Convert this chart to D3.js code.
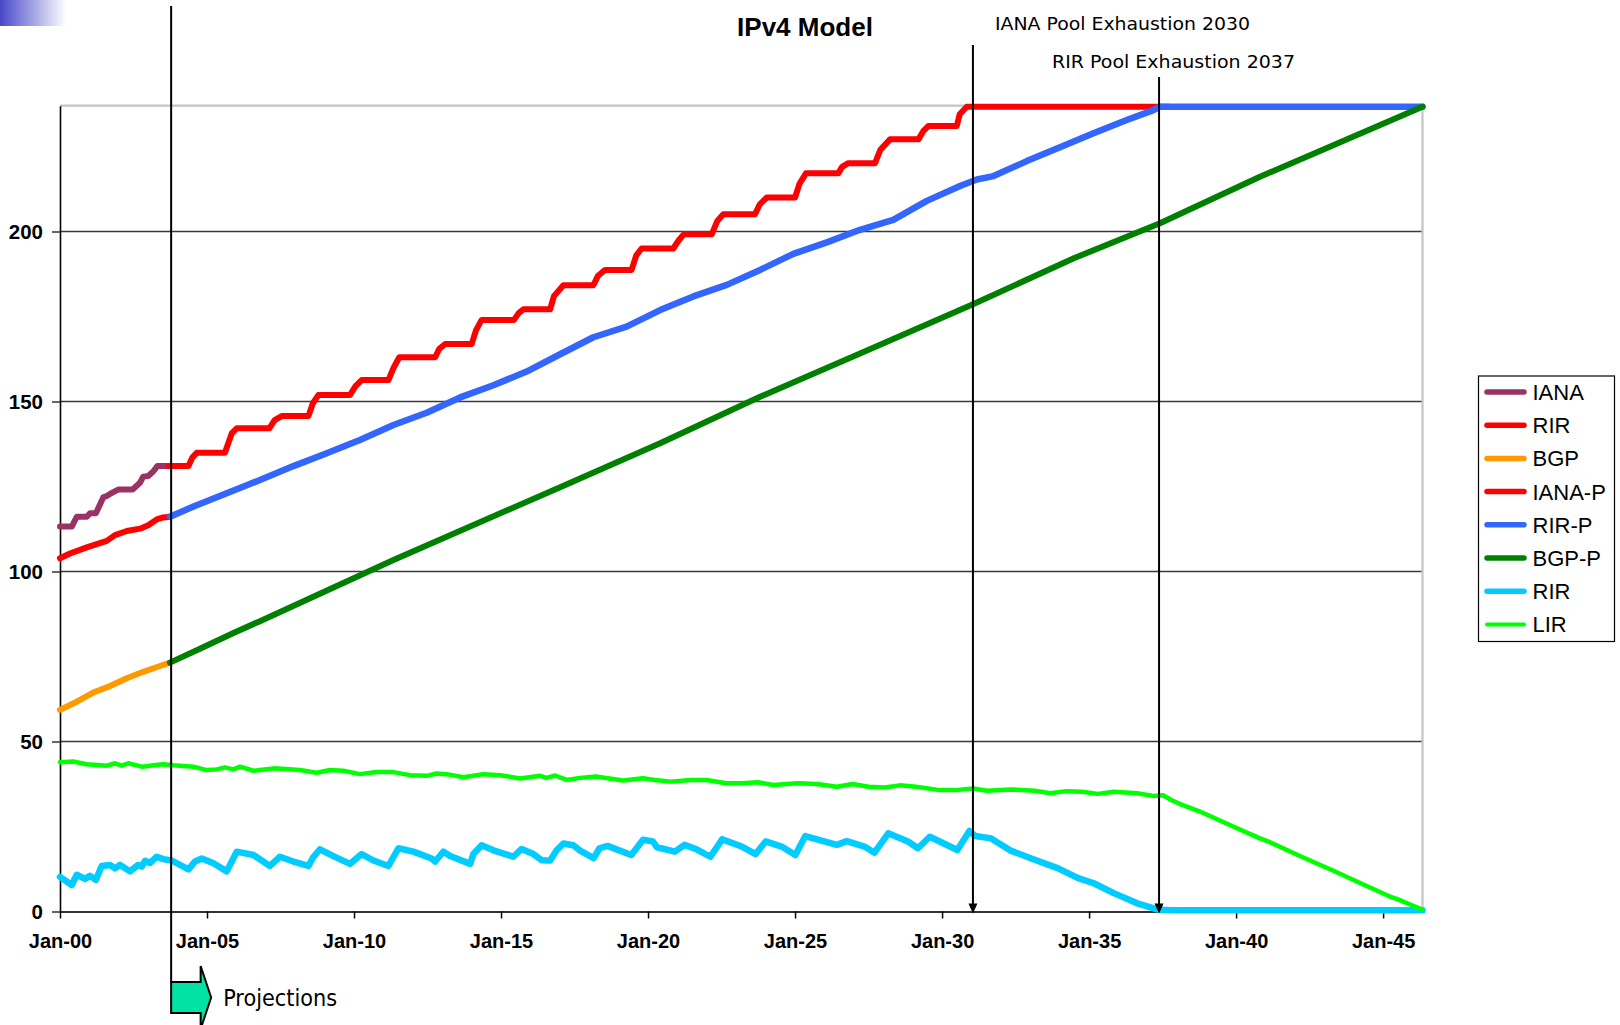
<!DOCTYPE html>
<html><head><meta charset="utf-8">
<script src="https://cdn.jsdelivr.net/npm/d3@7"></script>
<style>html,body{margin:0;padding:0;background:#fff;overflow:hidden;} svg{display:block;}</style>
</head><body>
<svg id="chart" width="1620" height="1025"></svg>
<script>
// ---------------- DATA ----------------
const chartTitle = "IPv4 Model";
const tickYears = [2000, 2005, 2010, 2015, 2020, 2025, 2030, 2035, 2040, 2045];
const tickLabels = ["Jan-00","Jan-05","Jan-10","Jan-15","Jan-20","Jan-25","Jan-30","Jan-35","Jan-40","Jan-45"];
const yTicks = [0, 50, 100, 150, 200];
const xDomain = [2000, 2046.34];
const yDomain = [0, 237];

const seriesNames = ["IANA","RIR","BGP","IANA-P","RIR-P","BGP-P","RIR","LIR"];

const projectionStartYear = 2003.78;
const ianaExhaustYear = 2031.05;
const rirExhaustYear = 2037.38;
const ianaExhaustLabel = "IANA Pool Exhaustion 2030";
const rirExhaustLabel = "RIR Pool Exhaustion 2037";
const projectionLabel = "Projections";

// [year, value] pairs
const ianaData = [[2000.00,113.2],[2000.40,113.2],[2000.57,116.1],[2000.91,116.1],[2001.02,117.1],[2001.22,117.1],[2001.47,121.8],[2001.59,122.2],[2001.70,122.8],[2001.98,124.1],[2002.47,124.1],[2002.72,126.1],[2002.83,127.9],[2003.00,128.1],[2003.17,129.4],[2003.31,131.0],[2003.70,131.0]];

const rirData = [[2000.00,103.9],[2000.34,105.3],[2000.91,107.1],[2001.59,109.0],[2001.87,110.7],[2002.27,111.9],[2002.72,112.6],[2003.00,113.6],[2003.29,115.3],[2003.51,115.9],[2003.74,116.1]];

const bgpData = [[2000.00,59.3],[2000.57,61.7],[2001.13,64.4],[2001.70,66.3],[2002.27,68.6],[2002.83,70.5],[2003.40,72.2],[2003.74,73.2]];

const ianaProjData = [[2003.70,131.0],[2004.37,131.0],[2004.50,133.5],[2004.65,134.9],[2005.61,134.9],[2005.84,140.6],[2006.01,142.1],[2007.12,142.1],[2007.30,144.5],[2007.54,145.7],[2008.45,145.7],[2008.60,149.5],[2008.79,151.9],[2009.86,151.9],[2010.05,154.5],[2010.26,156.3],[2011.17,156.3],[2011.35,160.0],[2011.54,163.0],[2012.76,163.0],[2012.90,165.5],[2013.10,166.9],[2014.00,166.9],[2014.15,171.0],[2014.34,174.0],[2015.44,174.0],[2015.60,176.0],[2015.76,177.1],[2016.67,177.1],[2016.80,181.0],[2017.12,184.2],[2018.14,184.2],[2018.30,187.0],[2018.54,188.7],[2019.44,188.7],[2019.60,193.0],[2019.78,195.0],[2020.86,195.0],[2021.05,197.5],[2021.22,199.2],[2022.17,199.2],[2022.35,203.0],[2022.56,205.1],[2023.64,205.1],[2023.80,208.0],[2024.04,210.0],[2025.00,210.0],[2025.15,214.0],[2025.37,217.1],[2026.47,217.1],[2026.60,219.0],[2026.81,220.1],[2027.72,220.1],[2027.90,224.0],[2028.23,227.1],[2029.20,227.1],[2029.36,229.5],[2029.53,231.0],[2030.50,231.0],[2030.60,234.5],[2030.84,236.7],[2037.70,236.7]];

const rirProjData = [[2003.74,116.1],[2004.54,119.1],[2005.67,123.0],[2006.80,126.9],[2007.94,131.0],[2009.07,134.8],[2010.20,138.7],[2011.34,143.1],[2012.47,146.7],[2013.61,151.2],[2014.74,154.8],[2015.87,158.8],[2017.01,163.9],[2018.14,168.9],[2019.27,172.0],[2020.41,176.9],[2021.54,180.9],[2022.68,184.3],[2023.81,188.7],[2024.94,193.4],[2026.08,196.8],[2027.21,200.5],[2028.34,203.4],[2029.48,209.0],[2030.61,213.4],[2031.18,215.3],[2031.75,216.3],[2032.88,220.7],[2034.01,224.8],[2035.15,228.9],[2036.28,232.8],[2037.19,235.7],[2037.41,236.7],[2046.34,236.7]];

const bgpProjData = [[2003.74,73.2],[2004.76,77.3],[2005.90,81.9],[2006.80,85.4],[2011.34,103.4],[2017.01,124.8],[2020.41,137.7],[2023.81,151.4],[2027.21,164.1],[2031.07,178.7],[2034.50,192.2],[2037.41,202.4],[2040.81,216.1],[2046.34,236.7]];

const rirPoolData = [[2000.00,10.2],[2000.40,7.8],[2000.57,10.8],[2000.85,9.6],[2001.02,10.5],[2001.22,9.3],[2001.42,13.4],[2001.70,13.7],[2001.87,12.7],[2002.04,13.7],[2002.38,11.8],[2002.66,13.7],[2002.78,13.2],[2002.89,14.9],[2003.06,14.3],[2003.29,16.1],[2003.51,15.4],[2003.80,15.0],[2004.37,12.4],[2004.59,14.7],[2004.82,15.6],[2005.22,14.2],[2005.67,11.8],[2006.01,17.6],[2006.58,16.6],[2007.14,13.4],[2007.48,16.1],[2007.94,14.7],[2008.45,13.4],[2008.62,16.1],[2008.84,18.3],[2009.30,16.3],[2009.86,14.0],[2010.26,16.9],[2010.66,15.0],[2011.17,13.4],[2011.51,18.6],[2012.02,17.6],[2012.64,15.6],[2012.76,14.7],[2013.04,17.6],[2013.27,16.3],[2013.95,14.0],[2014.06,16.9],[2014.34,19.5],[2014.74,18.0],[2015.42,16.1],[2015.70,18.4],[2016.10,16.9],[2016.38,15.1],[2016.67,15.0],[2016.89,18.0],[2017.12,20.0],[2017.46,19.5],[2017.69,17.9],[2018.15,15.7],[2018.35,18.6],[2018.62,19.3],[2019.43,16.6],[2019.83,21.1],[2020.17,20.6],[2020.30,18.9],[2020.91,17.6],[2021.24,19.6],[2021.65,18.3],[2022.12,16.1],[2022.52,21.2],[2023.19,19.1],[2023.66,16.9],[2024.00,20.6],[2024.54,19.1],[2025.01,16.6],[2025.35,22.2],[2026.42,19.6],[2026.76,20.7],[2027.36,19.1],[2027.70,17.3],[2028.17,23.0],[2028.84,20.6],[2029.18,18.6],[2029.58,22.0],[2030.52,18.1],[2030.93,23.7],[2031.13,22.2],[2031.67,21.5],[2032.34,17.9],[2033.15,15.2],[2033.95,12.7],[2034.63,9.8],[2035.16,8.3],[2035.84,5.4],[2036.64,2.4],[2037.32,0.6],[2037.79,0.4],[2046.34,0.4]];

const lirData = [[2000.00,43.9],[2000.45,44.1],[2000.91,43.3],[2001.59,42.9],[2001.87,43.6],[2002.10,42.9],[2002.32,43.6],[2002.78,42.6],[2003.00,42.8],[2003.17,43.0],[2003.51,43.3],[2003.85,43.0],[2004.54,42.6],[2004.99,41.6],[2005.33,41.8],[2005.61,42.4],[2005.90,41.8],[2006.12,42.6],[2006.58,41.4],[2006.80,41.6],[2007.26,42.1],[2008.16,41.6],[2008.73,40.8],[2009.18,41.6],[2009.64,41.4],[2010.20,40.4],[2010.77,41.0],[2011.34,41.0],[2011.90,40.1],[2012.47,39.9],[2012.81,40.6],[2013.15,40.4],[2013.72,39.5],[2014.40,40.4],[2014.97,40.1],[2015.65,39.1],[2016.33,39.9],[2016.55,39.3],[2016.84,40.0],[2017.23,38.7],[2017.69,39.3],[2018.22,39.7],[2019.16,38.5],[2019.83,39.2],[2020.23,38.7],[2020.77,38.2],[2021.45,38.7],[2021.98,38.7],[2022.66,37.7],[2023.19,37.7],[2023.73,38.0],[2024.27,37.2],[2025.08,37.7],[2025.75,37.5],[2026.42,36.7],[2026.96,37.5],[2027.50,36.7],[2028.04,36.5],[2028.57,37.1],[2029.11,36.7],[2029.92,35.7],[2030.46,35.7],[2031.06,36.2],[2031.53,35.5],[2032.34,35.9],[2033.15,35.5],[2033.69,34.8],[2034.22,35.4],[2034.76,35.2],[2035.30,34.6],[2035.84,35.2],[2036.64,34.8],[2037.18,34.0],[2037.52,34.2],[2037.79,32.8],[2038.10,31.6],[2038.77,29.4],[2039.90,25.0],[2040.81,21.5],[2041.04,20.8],[2042.17,16.3],[2043.31,12.0],[2044.44,7.5],[2045.23,4.4],[2045.46,3.7],[2046.33,0.6]];

const seriesData = [ianaData, rirData, bgpData, ianaProjData, rirProjData, bgpProjData, rirPoolData, lirData];

// ---------------- STYLES ----------------
const seriesColors = ["#993366","#FF0000","#FF9900","#FF0000","#3366FF","#008000","#00CCFF","#00FF00"];
const seriesWidths = [6, 6, 6, 6, 6.5, 6, 6.5, 4.5];
const legendWidths = [5.5, 5.5, 5.5, 5.5, 5.5, 5.5, 5.5, 4];

// ---------------- DRAW ----------------
const svg = d3.select("#chart");
const M = {left: 60, right: 1422.5, top: 105.7, bottom: 911.5};
const x = d3.scaleLinear().domain(xDomain).range([M.left, M.right]);
const y = d3.scaleLinear().domain(yDomain).range([M.bottom, M.top]);

// corner gradient decoration
const defs = svg.append("defs");
const grad = defs.append("linearGradient").attr("id","cornerGrad").attr("x1","0").attr("x2","1").attr("y1","0").attr("y2","0");
grad.append("stop").attr("offset","0").attr("stop-color","#4848c8");
grad.append("stop").attr("offset","1").attr("stop-color","#ffffff");
svg.append("rect").attr("x",0).attr("y",0).attr("width",66).attr("height",26).attr("fill","url(#cornerGrad)");

// gridlines
svg.append("g").selectAll("line").data(yTicks.filter(d => d > 0)).join("line")
  .attr("x1", M.left).attr("x2", M.right)
  .attr("y1", d => y(d)).attr("y2", d => y(d))
  .attr("stroke", "#3a3a3a").attr("stroke-width", 1.3);

// plot border top & right
svg.append("path")
  .attr("d", `M${M.left},${y(yDomain[1])}H${M.right}V${M.bottom}`)
  .attr("fill","none").attr("stroke","#c4c4c4").attr("stroke-width",2.2);

// axes
const fontArial = "'Liberation Sans', Arial, sans-serif";
const yAxis = svg.append("g").attr("transform", `translate(${M.left},0)`)
  .call(d3.axisLeft(y).tickValues(yTicks).tickSize(8).tickSizeOuter(0).tickPadding(9).tickFormat(d3.format("d")));
yAxis.select(".domain").attr("stroke","#000").attr("stroke-width",1.6);
yAxis.selectAll(".tick line").attr("stroke","#333").attr("stroke-width",1.5);
yAxis.selectAll(".tick text").attr("font-family", fontArial).attr("font-size", 20.5).attr("font-weight","bold").attr("fill","#000");

const xAxis = svg.append("g").attr("transform", `translate(0,${M.bottom})`)
  .call(d3.axisBottom(x).tickValues(tickYears).tickSize(7).tickSizeOuter(0).tickPadding(15).tickFormat((d,i) => tickLabels[i]));
xAxis.select(".domain").attr("stroke","#333").attr("stroke-width",1.8);
xAxis.selectAll(".tick line").attr("stroke","#000").attr("stroke-width",1.5);
xAxis.selectAll(".tick text").attr("font-family", fontArial).attr("font-size", 20).attr("font-weight","bold").attr("fill","#000");

// series
const line = d3.line().x(d => x(d[0])).y(d => y(d[1]));
svg.append("g").selectAll("path").data(seriesData).join("path")
  .attr("d", d => line(d))
  .attr("fill","none")
  .attr("stroke", (d,i) => seriesColors[i])
  .attr("stroke-width", (d,i) => seriesWidths[i])
  .attr("stroke-linejoin","round").attr("stroke-linecap","round");

// title
svg.append("text").attr("x", 805).attr("y", 36).attr("text-anchor","middle")
  .attr("font-family", fontArial).attr("font-size", 26).attr("font-weight","bold").text(chartTitle);

// annotations
const fontNote = "'DejaVu Sans', Verdana, sans-serif";
function downArrow(xv, yTop) {
  const px = x(xv);
  svg.append("line").attr("x1",px).attr("x2",px).attr("y1",yTop).attr("y2",y(0)-6)
    .attr("stroke","#000").attr("stroke-width",2);
  svg.append("path").attr("d", `M${px-4.5},${y(0)-8}L${px+4.5},${y(0)-8}L${px},${y(0)+2}Z`).attr("fill","#000");
}
downArrow(ianaExhaustYear, 45);
downArrow(rirExhaustYear, 77);

svg.append("text").attr("x", 995).attr("y", 30).attr("font-family", fontNote).attr("font-size", 18.5)
  .attr("textLength", 255).attr("lengthAdjust","spacingAndGlyphs").text(ianaExhaustLabel);
svg.append("text").attr("x", 1052).attr("y", 68).attr("font-family", fontNote).attr("font-size", 18.5)
  .attr("textLength", 243).attr("lengthAdjust","spacingAndGlyphs").text(rirExhaustLabel);

// projection line & arrow
const pxp = x(projectionStartYear);
svg.append("line").attr("x1",pxp).attr("x2",pxp).attr("y1",6).attr("y2",982)
  .attr("stroke","#000").attr("stroke-width",2);
svg.append("path")
  .attr("d", `M${pxp},982H${pxp+29.5}V966L${pxp+40},997.5L${pxp+29.5},1029V1013H${pxp}Z`)
  .attr("fill","#00E3A5").attr("stroke","#000").attr("stroke-width",2).attr("stroke-linejoin","miter");
svg.append("text").attr("x", pxp+52).attr("y", 1005.5).attr("font-family", fontNote).attr("font-size", 22.5)
  .attr("textLength", 114).attr("lengthAdjust","spacingAndGlyphs").text(projectionLabel);

// legend
const lg = svg.append("g");
lg.append("rect").attr("x",1478.5).attr("y",376).attr("width",136).attr("height",265.5)
  .attr("fill","#fff").attr("stroke","#000").attr("stroke-width",1.2);
const rows = lg.selectAll("g.row").data(seriesNames).join("g").attr("class","row")
  .attr("transform", (d,i) => `translate(0,${392 + i*33.2})`);
rows.append("line").attr("x1",1487).attr("x2",1524).attr("y1",0).attr("y2",0)
  .attr("stroke",(d,i) => seriesColors[i]).attr("stroke-width",(d,i) => legendWidths[i]).attr("stroke-linecap","round");
rows.append("text").attr("x",1532.5).attr("y",0).attr("dy","0.36em")
  .attr("font-family", fontArial).attr("font-size",22).attr("fill","#000").text(d => d);
</script>
</body></html>
